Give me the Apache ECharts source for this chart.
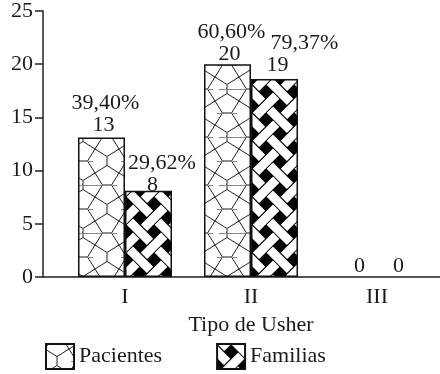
<!DOCTYPE html>
<html>
<head>
<meta charset="utf-8">
<script src="https://cdn.jsdelivr.net/npm/echarts@6/dist/echarts.min.js"></script>
<style>
  html, body { margin: 0; padding: 0; background: #fff; }
  #chart { width: 440px; height: 374px; }
</style>
</head>
<body>
<div id="chart"></div>
<script>
// data
const categories = ["I", "II", "III"];
const pacientes = [13.1, 20, 0];
const familias = [8.1, 18.6, 0];
const pacientesCount = ["13", "20", "0"];
const familiasCount = ["8", "19", "0"];
const pacientesPct = ["39,40%", "60,60%", ""];
const familiasPct = ["29,62%", "79,37%", ""];

// small label nudges (layout only)
const pacientesNudge = [[2, -2], [2, 0], [6, -1]];
const familiasNudge = [[4, 4], [3, -4], [-2, -1]];
const pacientesPad = [4, 4, 0];
const familiasPad = [19, 54, 0];

const FONT = "Liberation Serif";
const INK = "#1a1a1a";
const FS = 22;

// pentagon (cairo) tiling for Pacientes
function cairoPattern() {
  const size = 48, a = 24, h = 4.5, ox = 11, oy = 17;
  const cv = document.createElement("canvas");
  cv.width = size;
  cv.height = size;
  const ctx = cv.getContext("2d");
  ctx.fillStyle = "#fff";
  ctx.fillRect(0, 0, size, size);
  ctx.strokeStyle = "#222";
  ctx.lineWidth = 1;
  const ends = (i, j) => {
    const gx = ox + a * i, gy = oy + a * j;
    return (i + j) % 2 !== 0
      ? [[gx - h, gy], [gx + h, gy]]
      : [[gx, gy - h], [gx, gy + h]];
  };
  ctx.beginPath();
  for (let i = -2; i <= 3; i++) {
    for (let j = -2; j <= 3; j++) {
      const e = ends(i, j);
      ctx.moveTo(e[0][0], e[0][1]);
      ctx.lineTo(e[1][0], e[1][1]);
      const cx = ox + a * i + a / 2, cy = oy + a * j + a / 2;
      [[0, 0], [1, 0], [0, 1], [1, 1]].forEach(d => {
        const ee = ends(i + d[0], j + d[1]);
        const d0 = Math.hypot(ee[0][0] - cx, ee[0][1] - cy);
        const d1 = Math.hypot(ee[1][0] - cx, ee[1][1] - cy);
        const p = d0 < d1 ? ee[0] : ee[1];
        ctx.moveTo(cx, cy);
        ctx.lineTo(p[0], p[1]);
      });
    }
  }
  ctx.stroke();
  // faint seams and dots as in the printed pattern
  ctx.strokeStyle = "#888";
  ctx.lineWidth = 1;
  ctx.beginPath();
  ctx.moveTo(25, 17.5); ctx.lineTo(45, 17.5);
  ctx.moveTo(0, 41.5); ctx.lineTo(21, 41.5);
  ctx.moveTo(48, 41.5); ctx.lineTo(27, 41.5);
  ctx.stroke();
  ctx.fillStyle = "#444";
  ctx.fillRect(34, 40, 1, 1);
  return cv;
}

// diagonal basket weave for Familias
function weavePattern() {
  const size = 28, c = size / Math.SQRT2, w = 11, lw = 1.1, ss = 3;
  const cv = document.createElement("canvas");
  cv.width = size;
  cv.height = size;
  const ctx = cv.getContext("2d");
  const img = ctx.createImageData(size, size);
  const mod = (x, m) => ((x % m) + m) % m;
  for (let y = 0; y < size; y++) {
    for (let x = 0; x < size; x++) {
      let white = 0;
      for (let sy = 0; sy < ss; sy++) {
        for (let sx = 0; sx < ss; sx++) {
          const px = x + (sx + 0.5) / ss, py = y + (sy + 0.5) / ss;
          const u = (px + py) / Math.SQRT2, v = (py - px) / Math.SQRT2;
          const cu = mod(u, c), cvv = mod(v, c);
          const i = Math.floor(u / c), j = Math.floor(v / c);
          const inA = cvv < w, inB = cu < w;
          if (!inA && !inB) continue;
          let top;
          if (inA && inB) top = mod(i + j, 2) === 0 ? "A" : "B";
          else top = inA ? "A" : "B";
          const t = top === "A" ? cvv : cu;
          if (Math.min(t, w - t) > lw) white++;
        }
      }
      const g = Math.round(255 * white / (ss * ss));
      const k = (y * size + x) * 4;
      img.data[k] = g;
      img.data[k + 1] = g;
      img.data[k + 2] = g;
      img.data[k + 3] = 255;
    }
  }
  ctx.putImageData(img, 0, 0);
  return cv;
}

function buildData(values, nudges) {
  return values.map((v, i) => ({
    value: v,
    label: { offset: nudges[i] },
    // an empty bar leaves only the axis line
    itemStyle: v === 0 ? { borderWidth: 0, color: "rgba(0,0,0,0)" } : {}
  }));
}

function barLabel(pct, count, pads) {
  const rich = {
    n: { fontFamily: FONT, fontSize: FS, lineHeight: 20, color: INK }
  };
  pads.forEach((p, i) => {
    rich["p" + i] = {
      fontFamily: FONT, fontSize: FS, lineHeight: 24, color: INK,
      padding: [0, 0, 0, p]
    };
  });
  return {
    show: true,
    position: "top",
    distance: 0,
    color: INK,
    formatter: function (params) {
      const i = params.dataIndex;
      if (pct[i]) return "{p" + i + "|" + pct[i] + "}\n{n|" + count[i] + "}";
      return "{n|" + count[i] + "}";
    },
    rich: rich
  };
}

const myChart = echarts.init(document.getElementById("chart"));
myChart.setOption({
  animation: false,
  textStyle: { fontFamily: FONT, color: INK },
  grid: { left: 62, right: 0, top: 10, bottom: 97 },
  legend: {
    left: 45,
    top: 343,
    padding: 0,
    itemWidth: 28,
    itemHeight: 25,
    itemGap: 54,
    icon: "rect",
    textStyle: { fontFamily: FONT, fontSize: FS, color: INK },
    data: ["Pacientes", "Familias"]
  },
  xAxis: {
    type: "category",
    data: categories,
    name: "Tipo de Usher",
    nameLocation: "middle",
    nameGap: 37,
    nameTextStyle: { fontFamily: FONT, fontSize: FS, color: INK },
    axisLine: { lineStyle: { color: "#555", width: 2 } },
    axisTick: { show: false },
    axisLabel: { fontFamily: FONT, fontSize: FS, color: INK, margin: 9 }
  },
  yAxis: {
    type: "value",
    min: 0,
    max: 25,
    interval: 5,
    offset: 19,
    axisLine: { show: true, lineStyle: { color: "#222", width: 1.5 } },
    axisTick: { show: true, length: 8, lineStyle: { color: "#222", width: 1.5 } },
    axisLabel: { fontFamily: FONT, fontSize: FS, color: INK, margin: 10 },
    splitLine: { show: false }
  },
  graphic: [
    {
      // x axis line runs on to the y axis
      type: "line",
      shape: { x1: 43, y1: 277, x2: 62, y2: 277 },
      style: { stroke: "#555", lineWidth: 2 },
      silent: true
    }
  ],
  series: [
    {
      name: "Pacientes",
      type: "bar",
      barWidth: 47,
      barGap: "0%",
      data: buildData(pacientes, pacientesNudge),
      itemStyle: {
        color: { image: cairoPattern(), repeat: "repeat" },
        borderColor: "#111",
        borderWidth: 1.5
      },
      label: barLabel(pacientesPct, pacientesCount, pacientesPad)
    },
    {
      name: "Familias",
      type: "bar",
      barWidth: 47,
      barGap: "0%",
      data: buildData(familias, familiasNudge),
      itemStyle: {
        color: { image: weavePattern(), repeat: "repeat" },
        borderColor: "#111",
        borderWidth: 1.5
      },
      label: barLabel(familiasPct, familiasCount, familiasPad)
    }
  ]
});
</script>
</body>
</html>
